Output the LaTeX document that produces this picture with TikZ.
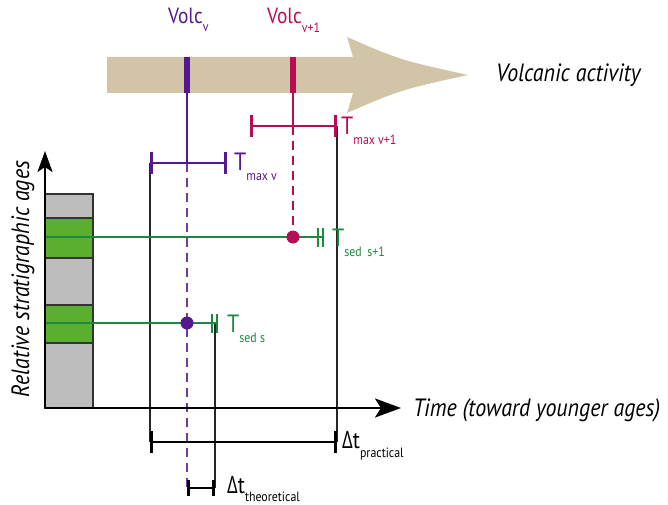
\documentclass[tikz,border=0pt]{standalone}
\usepackage{fontspec}
\setmainfont{PT Sans}[FakeStretch=0.88]
\newfontfamily\grk{Open Sans}[FakeStretch=0.78]
\usetikzlibrary{arrows.meta}
\definecolor{tan}{HTML}{D2C5A7}
\definecolor{vpurple}{HTML}{55198F}
\definecolor{vmag}{HTML}{B70D55}
\definecolor{sgreen}{HTML}{1C8A3E}
\definecolor{lgreen}{HTML}{5CAF2E}
\definecolor{lgray}{HTML}{BDBDBD}
\newcommand\fs[1]{\fontsize{#1}{#1}\selectfont}
\newcommand\lowsub[2]{\raisebox{-#1pt}{\fs{13.5}#2}}
\begin{document}
\begin{tikzpicture}[x=1pt,y=-1pt,
  lbl/.style={inner sep=0pt,anchor=base west},
  thin/.style={line width=1.3pt},
  dashline/.style={line width=1.3pt,dash pattern=on 9pt off 6pt},
  bracket/.style={line width=2.8pt,{Bar[width=22pt]}-{Bar[width=22pt]}},
  dbar/.style={line width=2.8pt,sgreen},
  layer/.style={draw=black!80,line width=1.3pt},
  axis/.style={line width=2.6pt}]
\useasboundingbox (0,0) rectangle (668,505);
% big arrow
\fill[tan] (107,57) -- (353,57) -- (347,37) .. controls (400,60) .. (468,75)
  .. controls (400,90) .. (347,113) -- (353,93) -- (107,93) -- cycle;
\node[lbl,anchor=west,font=\itshape\fs{25}] (va) at (496,75) {Volcanic activity};
% volcanic bars
\fill[vpurple] (184,57) rectangle (190,93);
\fill[vmag] (290,57) rectangle (296,93);
\node[lbl,text=vpurple] (volcv) at (168,24) {\fs{22}Volc\lowsub{8}{v}};
\node[lbl,text=vmag] (volcw) at (267,24) {\fs{22}Volc\lowsub{9}{v+1}};
% coordinates
\coordinate (vb) at (187,93);
\coordinate (tmv) at (187,163);
\coordinate (tmvL) at (150,163);
\coordinate (tmvR) at (227,163);
\coordinate (wb) at (293,93);
\coordinate (tmw) at (293,126);
\coordinate (tmwL) at (250,126);
\coordinate (tmwR) at (337,126);
\coordinate (pL) at (150,442);
\coordinate (pR) at (337,442);
\coordinate (thL) at (187,488);
\coordinate (thR) at (215,488);
\coordinate (sb2) at (215,323);
\coordinate (origin) at (45,408);
\coordinate (ytip) at (45,151);
\coordinate (xtip) at (401,408);
% stratigraphic column
\filldraw[layer,fill=lgray] (45,343) rectangle (93,408);
\filldraw[layer,fill=lgreen] (45,305) rectangle (93,343);
\filldraw[layer,fill=lgray] (45,258) rectangle (93,305);
\filldraw[layer,fill=lgreen] (45,218) rectangle (93,258);
\filldraw[layer,fill=lgray] (45,194) rectangle (93,218);
% black vertical lines
\draw[thin,black!85] (tmvL) -- (pL);
\draw[thin,black!85] (tmwR) -- (pR);
\draw[thin,black!85] (sb2) -- (thR);
% sediment lines
\coordinate (s1a) at (45,237);
\coordinate (s1b) at (323,237);
\coordinate (s2a) at (45,323);
\coordinate (s2b) at (217,323);
\draw[thin,sgreen] (s1a) -- (s1b);
\draw[thin,sgreen] (s2a) -- (s2b);
\draw[dbar] (318,228) -- (318,247) (323,228) -- (323,247);
\draw[dbar] (212,314) -- (212,333) (217,314) -- (217,333);
% volcanic lines
\draw[thin,vpurple] (vb) -- (tmv);
\draw[dashline,vpurple!85] (tmv) -- (thL);
\draw[thin,vmag] (wb) -- (tmw);
\node[circle,fill=vmag,minimum size=13pt,inner sep=0pt] (dot1) at (293,237) {};
\draw[dashline,vmag] (tmw) -- (dot1);
\node[circle,fill=vpurple,minimum size=13pt,inner sep=0pt] (dot2) at (187,323) {};
% brackets
\draw[bracket,vpurple] (tmvL) -- (tmvR);
\draw[bracket,vmag] (tmwL) -- (tmwR);
\draw[bracket,black] (pL) -- (pR);
\draw[bracket,black,{Bar[width=16pt]}-{Bar[width=16pt]}] (thL) -- (thR);
% axes
\draw[axis,-{Stealth[length=21pt,width=15pt,inset=5pt]}] (origin) -- (ytip);
\draw[axis,-{Stealth[length=26pt,width=19pt,inset=6pt]}] (origin) -- (xtip);
% labels
\node[lbl,text=vpurple] (ltmv) at (234,170) {\fs{25}T\lowsub{10}{max v}};
\node[lbl,text=vmag] (ltmw) at (341,135) {\fs{25}T\lowsub{10}{max v+1}};
\node[lbl,text=sgreen] (ltss1) at (332,246) {\fs{25}T\lowsub{10}{sed\, s+1}};
\node[lbl,text=sgreen] (ltss) at (227,332) {\fs{25}T\lowsub{10}{sed s}};
\node[lbl] (ldp) at (342,448) {\fs{24}{\grk\char"0394}t\lowsub{9}{practical}};
\node[lbl] (ldt) at (227,493) {\fs{24}{\grk\char"0394}t\lowsub{8}{theoretical}};
\node[lbl,anchor=west,font=\itshape\fs{25}] (ltime) at (413,410) {Time (toward younger ages)};
\node[inner sep=0pt,rotate=90,font=\itshape\fs{25}] (lrel) at (23,279) {Relative stratigraphic ages};
\end{tikzpicture}
\end{document}
